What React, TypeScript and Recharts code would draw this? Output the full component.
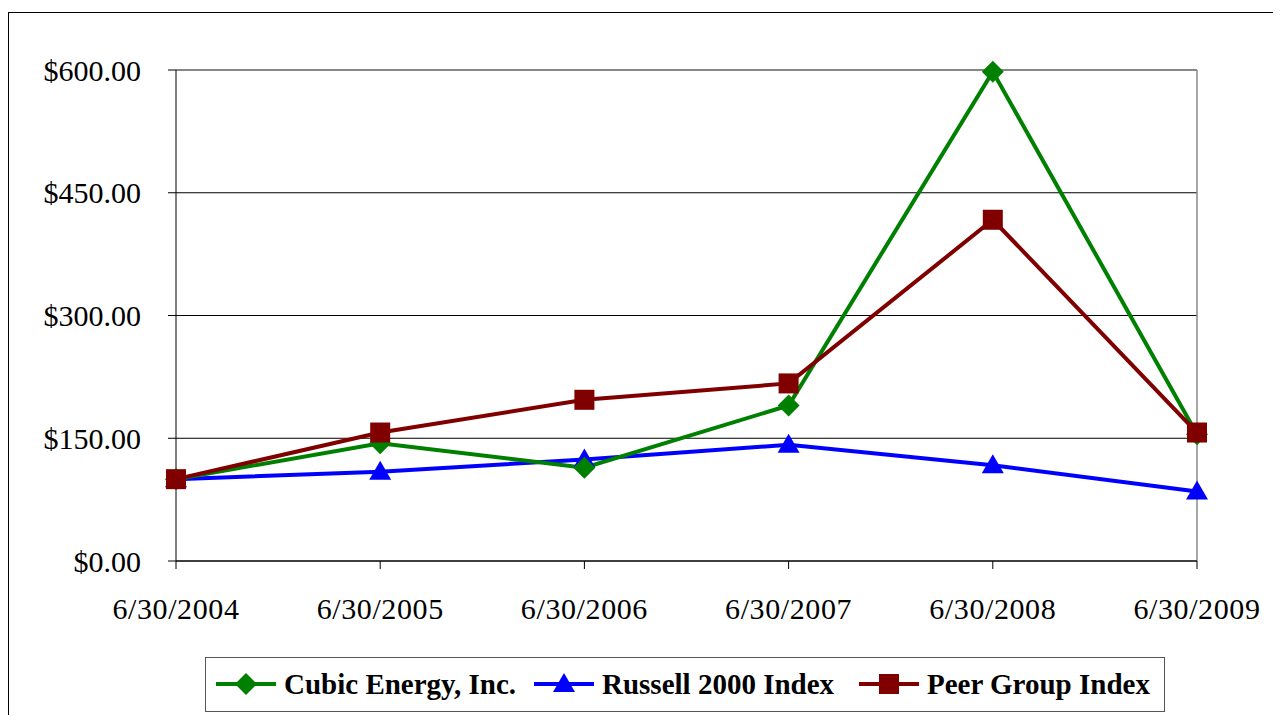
import React from "react";
import {
  LineChart,
  Line,
  XAxis,
  YAxis,
  CartesianGrid,
  ReferenceLine,
} from "recharts";

const dates = ["6/30/2004", "6/30/2005", "6/30/2006", "6/30/2007", "6/30/2008", "6/30/2009"];
const cubicEnergy = [100, 144, 114, 190, 598, 155];
const russell2000 = [100, 109, 124, 142, 117, 85];
const peerGroup = [100, 157, 197, 217, 417, 157];
const yTicks = [0, 150, 300, 450, 600];

const GREEN = "#008000";
const BLUE = "#0000FF";
const RED = "#800000";
const FONT = "Liberation Serif";

const data = dates.map((d, i) => ({
  date: d,
  cubic: cubicEnergy[i],
  russell: russell2000[i],
  peer: peerGroup[i],
}));

function Diamond({ cx, cy, fill }: any) {
  if (cx == null || cy == null) return null;
  const r = 11;
  return <polygon points={`${cx},${cy - r} ${cx + r},${cy} ${cx},${cy + r} ${cx - r},${cy}`} fill={fill} />;
}

function Triangle({ cx, cy, fill }: any) {
  if (cx == null || cy == null) return null;
  return <polygon points={`${cx},${cy - 11} ${cx + 11},${cy + 8} ${cx - 11},${cy + 8}`} fill={fill} />;
}

function Square({ cx, cy, fill }: any) {
  if (cx == null || cy == null) return null;
  return <rect x={cx - 10} y={cy - 10} width={20} height={20} fill={fill} />;
}

// legend entries, with the x of each entry inside the legend box
const legendItems = [
  { name: "Cubic Energy, Inc.", color: GREEN, Marker: Diamond, left: 9 },
  { name: "Russell 2000 Index", color: BLUE, Marker: Triangle, left: 327 },
  { name: "Peer Group Index", color: RED, Marker: Square, left: 652 },
];

function ChartLegend() {
  return (
    <div
      style={{
        position: "absolute",
        left: 197,
        top: 649,
        width: 960,
        height: 55,
        border: "1.5px solid #555",
        background: "#fff",
        boxSizing: "border-box",
        fontFamily: FONT,
        fontWeight: "bold",
        fontSize: 29,
        color: "#000",
        whiteSpace: "nowrap",
      }}
    >
      {legendItems.map((it) => (
        <div
          key={it.name}
          style={{ position: "absolute", left: it.left, top: 0, height: 52, display: "flex", alignItems: "center" }}
        >
          <svg width={62} height={26}>
            <line x1={1} y1={13} x2={61} y2={13} stroke={it.color} strokeWidth={4} />
            <it.Marker cx={31} cy={13} fill={it.color} />
          </svg>
          <span style={{ marginLeft: 7 }}>{it.name}</span>
        </div>
      ))}
    </div>
  );
}

export default function App() {
  return (
    <div
      style={{
        position: "relative",
        width: 1273,
        height: 707,
        overflow: "hidden",
        background: "#fff",
      }}
    >
      <div
        style={{
          position: "absolute",
          left: 0,
          top: 4,
          width: 1400,
          height: 800,
          border: "1.5px solid #000",
        }}
      />
      <div style={{ position: "absolute", left: 0, top: 0 }}>
        <LineChart
          width={1273}
          height={707}
          data={data}
          margin={{ top: 62, right: 84, left: 0, bottom: 104 }}
        >
          <CartesianGrid vertical={false} stroke="#000" strokeWidth={1} />
          <XAxis
            dataKey="date"
            height={50}
            stroke="#000"
            tickSize={8}
            tickMargin={29}
            tick={{ fontSize: 30, fill: "#000", fontFamily: FONT, letterSpacing: 0.6 }}
            interval={0}
          />
          <YAxis
            width={168}
            domain={[0, 600]}
            ticks={yTicks}
            stroke="#000"
            tickSize={8}
            tickMargin={27}
            tickFormatter={(v: number) => `$${v.toFixed(2)}`}
            tick={{ fontSize: 30, fill: "#000", fontFamily: FONT }}
          />
          <ReferenceLine y={600} stroke="#888" strokeWidth={1.5} />
          <ReferenceLine x="6/30/2009" stroke="#888" strokeWidth={1.5} />
          <Line
            dataKey="russell"
            name="Russell 2000 Index"
            stroke={BLUE}
            strokeWidth={4}
            dot={<Triangle fill={BLUE} />}
            isAnimationActive={false}
          />
          <Line
            dataKey="cubic"
            name="Cubic Energy, Inc."
            stroke={GREEN}
            strokeWidth={4}
            dot={<Diamond fill={GREEN} />}
            isAnimationActive={false}
          />
          <Line
            dataKey="peer"
            name="Peer Group Index"
            stroke={RED}
            strokeWidth={4}
            dot={<Square fill={RED} />}
            isAnimationActive={false}
          />
        </LineChart>
      </div>
      <ChartLegend />
    </div>
  );
}
